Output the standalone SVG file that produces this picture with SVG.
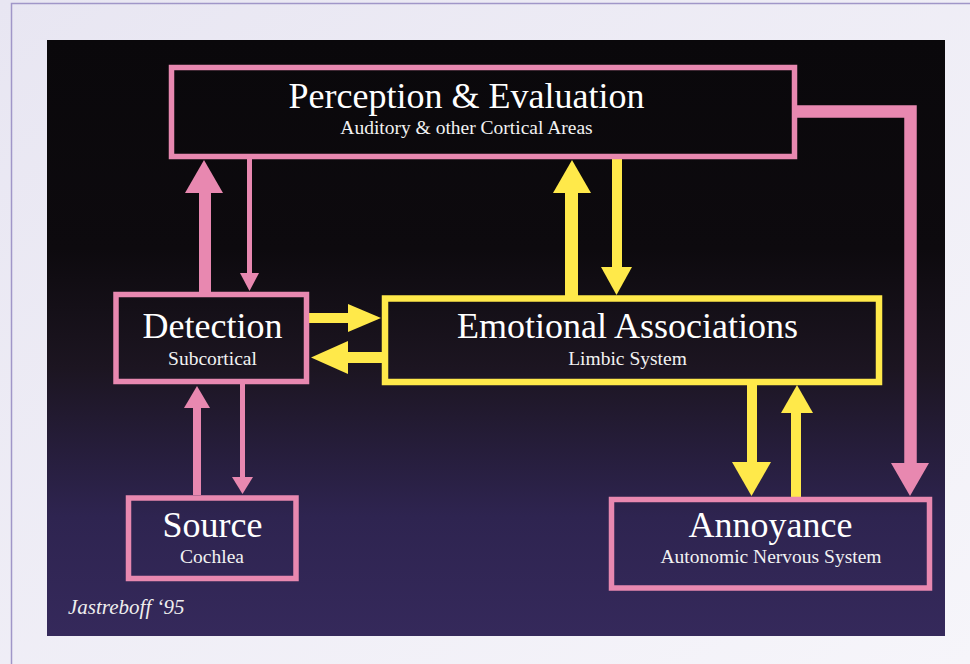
<svg xmlns="http://www.w3.org/2000/svg" width="970" height="664" viewBox="0 0 970 664">
<defs>
<linearGradient id="bg" x1="0" y1="0" x2="1" y2="1">
<stop offset="0" stop-color="#e8e6f2"/>
<stop offset="1" stop-color="#f6f5fa"/>
</linearGradient>
<linearGradient id="panel" x1="0" y1="40" x2="0" y2="636" gradientUnits="userSpaceOnUse">
<stop offset="0" stop-color="#0a080b"/>
<stop offset="0.35" stop-color="#0d0a0e"/>
<stop offset="0.55" stop-color="#1c1521"/>
<stop offset="0.8" stop-color="#2e2450"/>
<stop offset="1" stop-color="#35295b"/>
</linearGradient>
<style>
.pinkbox{fill:none;stroke:#e888b0;stroke-width:5.5}
.yelbox{fill:none;stroke:#ffe94a;stroke-width:6.5}
.ps{stroke:#e888b0;fill:none}
.pk{fill:#e888b0}
.ys{stroke:#ffe94a;fill:none}
.yh{fill:#ffe94a}
.title{font-family:"Liberation Serif","Times New Roman",serif;font-size:36px;fill:#ffffff;text-anchor:middle}
.sub{font-family:"Liberation Serif","Times New Roman",serif;font-size:19.5px;fill:#f2f2f2;text-anchor:middle}
.credit{font-family:"Liberation Serif","Times New Roman",serif;font-style:italic;font-size:21px;fill:#eeeeee}
</style>
</defs>
<rect x="0" y="0" width="970" height="664" fill="url(#bg)"/>
<path d="M11.5 664 V3.5 H970" fill="none" stroke="#a096c8" stroke-width="1.5"/>
<rect x="47" y="40" width="898" height="596" fill="url(#panel)"/>

<g id="connectors">
<!-- Perception -> Annoyance feedback -->
<polyline class="ps" points="797,111.5 910.5,111.5 910.5,464" stroke-width="12.5" stroke-linejoin="miter"/>
<polygon class="pk" points="891,463 929,463 910,496"/>
<!-- Detection -> Perception -->
<line class="ps" x1="205" y1="292" x2="205" y2="192" stroke-width="12"/>
<polygon class="pk" points="185,193 223,193 204,160"/>
<!-- Perception -> Detection -->
<line class="ps" x1="249.5" y1="157" x2="249.5" y2="274" stroke-width="5"/>
<polygon class="pk" points="240,273 259,273 249.5,291"/>
<!-- Source -> Detection -->
<line class="ps" x1="197" y1="495" x2="197" y2="407" stroke-width="8"/>
<polygon class="pk" points="184,408 210,408 197,386"/>
<!-- Detection -> Source -->
<line class="ps" x1="242.5" y1="384" x2="242.5" y2="478" stroke-width="5"/>
<polygon class="pk" points="232,477 253,477 242.5,494"/>
<!-- Detection -> Emotional -->
<line class="ys" x1="309" y1="318" x2="349" y2="318" stroke-width="10"/>
<polygon class="yh" points="348,304 348,332 381,318"/>
<!-- Emotional -> Detection -->
<line class="ys" x1="382" y1="357.5" x2="347" y2="357.5" stroke-width="11"/>
<polygon class="yh" points="348,341 348,374 311,357.5"/>
<!-- Emotional -> Perception -->
<line class="ys" x1="571.5" y1="296" x2="571.5" y2="192" stroke-width="13"/>
<polygon class="yh" points="553,193 591,193 572,160"/>
<!-- Perception -> Emotional -->
<line class="ys" x1="617" y1="157" x2="617" y2="268" stroke-width="10"/>
<polygon class="yh" points="601,267 632,267 616.5,295"/>
<!-- Emotional -> Annoyance -->
<line class="ys" x1="752" y1="385" x2="752" y2="463" stroke-width="10"/>
<polygon class="yh" points="732,462 771,462 751.5,496"/>
<!-- Annoyance -> Emotional -->
<line class="ys" x1="796" y1="497" x2="796" y2="412" stroke-width="10"/>
<polygon class="yh" points="781,413 813,413 797,385"/>
</g>

<g id="perception">
<rect class="pinkbox" x="171.5" y="67.5" width="623" height="89"/>
<text class="title" x="466.5" y="108">Perception &amp; Evaluation</text>
<text class="sub" x="466.5" y="134">Auditory &amp; other Cortical Areas</text>
</g>

<g id="detection">
<rect class="pinkbox" x="116" y="294.5" width="190.5" height="87"/>
<text class="title" x="212.5" y="338">Detection</text>
<text class="sub" x="212.5" y="365">Subcortical</text>
</g>

<g id="emotional">
<rect class="yelbox" x="385" y="298.5" width="494" height="83.5"/>
<text class="title" x="627.5" y="338">Emotional Associations</text>
<text class="sub" x="627.5" y="365">Limbic System</text>
</g>

<g id="source">
<rect class="pinkbox" x="128.5" y="498" width="167.5" height="80.5"/>
<text class="title" x="212.5" y="537">Source</text>
<text class="sub" x="212" y="563">Cochlea</text>
</g>

<g id="annoyance">
<rect class="pinkbox" x="611.5" y="499.5" width="318" height="88.5"/>
<text class="title" x="770.5" y="537">Annoyance</text>
<text class="sub" x="771" y="563">Autonomic Nervous System</text>
</g>

<text class="credit" x="68" y="614">Jastreboff ‘95</text>
</svg>
